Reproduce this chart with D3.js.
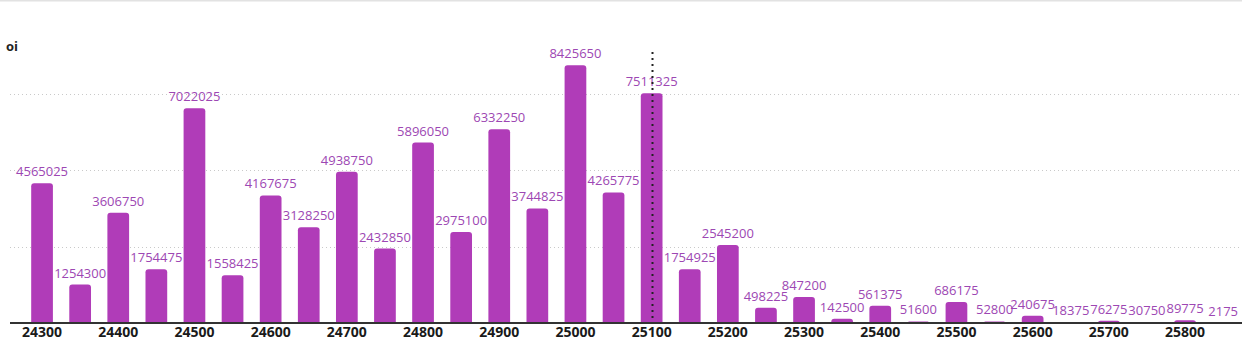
<!DOCTYPE html>
<html>
<head>
<meta charset="utf-8">
<script src="https://cdn.jsdelivr.net/npm/d3@7"></script>
<style>
  html, body { margin: 0; padding: 0; background: #fff; }
  svg { display: block; }
</style>
</head>
<body>
<svg id="chart" width="1242" height="341"></svg>
<script>
// Strike prices and open interest per strike
const strikes = [24300, 24350, 24400, 24450, 24500, 24550, 24600, 24650, 24700, 24750,
                 24800, 24850, 24900, 24950, 25000, 25050, 25100, 25150, 25200, 25250,
                 25300, 25350, 25400, 25450, 25500, 25550, 25600, 25650, 25700, 25750,
                 25800, 25850];
const oi = [4565025, 1254300, 3606750, 1754475, 7022025, 1558425, 4167675, 3128250, 4938750, 2432850,
            5896050, 2975100, 6332250, 3744825, 8425650, 4265775, 7511325, 1754925, 2545200, 498225,
            847200, 142500, 561375, 51600, 686175, 52800, 240675, 18375, 76275, 30750,
            89775, 2175];
const tickStrikes = [24300, 24400, 24500, 24600, 24700, 24800, 24900, 25000, 25100, 25200,
                     25300, 25400, 25500, 25600, 25700, 25800];
const gridValues = [2500000, 5000000, 7500000];
const markerStrike = 25100;

const W = 1242, H = 341;
const baseY = 323;
const svg = d3.select("#chart");

const x = d3.scaleBand()
  .domain(strikes)
  .range([23, 1242.2])
  .paddingInner(0.43)
  .paddingOuter(0.215);

const y = d3.scaleLinear()
  .domain([0, 10000000])
  .range([baseY, 17]);

// top border
svg.append("line")
  .attr("x1", 0).attr("x2", W).attr("y1", 0.5).attr("y2", 0.5)
  .attr("stroke", "#e2e2e2").attr("stroke-width", 2);

// series title
svg.append("text")
  .attr("x", 6).attr("y", 51)
  .attr("font-family", "'Open Sans', sans-serif")
  .attr("font-size", 13).attr("font-weight", 700)
  .attr("fill", "#222")
  .text("oi");

// dotted horizontal gridlines
svg.append("g").selectAll("line")
  .data(gridValues)
  .join("line")
  .attr("x1", 10).attr("x2", W)
  .attr("y1", d => Math.round(y(d)) + 0.5)
  .attr("y2", d => Math.round(y(d)) + 0.5)
  .attr("stroke", "#c9c9c9")
  .attr("stroke-width", 1)
  .attr("stroke-dasharray", "1,3");

// bars with rounded top corners
const r = 3;
function barPath(d, i) {
  const x0 = x(strikes[i]);
  const w = x.bandwidth();
  const top = y(d);
  const h = baseY - top;
  const rr = Math.min(r, h, w / 2);
  return `M${x0},${baseY}V${top + rr}Q${x0},${top} ${x0 + rr},${top}` +
         `H${x0 + w - rr}Q${x0 + w},${top} ${x0 + w},${top + rr}V${baseY}Z`;
}
svg.append("g").selectAll("path")
  .data(oi)
  .join("path")
  .attr("d", barPath)
  .attr("fill", "#b03cb8");

// value labels
svg.append("g").selectAll("text")
  .data(oi)
  .join("text")
  .attr("x", (d, i) => x(strikes[i]) + x.bandwidth() / 2)
  .attr("y", d => y(d) - 7)
  .attr("text-anchor", "middle")
  .attr("font-family", "'Open Sans', sans-serif")
  .attr("font-size", 13)
  .attr("fill", "#9d47b3")
  .text(d => d);

// marker line at selected strike
const mx = Math.round(x(markerStrike) + x.bandwidth() / 2) + 0.5;
svg.append("line")
  .attr("x1", mx).attr("x2", mx)
  .attr("y1", 52).attr("y2", baseY)
  .attr("stroke", "#222")
  .attr("stroke-width", 2)
  .attr("stroke-dasharray", "2,4");

// x axis
const xAxis = d3.axisBottom(x)
  .tickValues(tickStrikes)
  .tickSize(0)
  .tickPadding(4);
const gx = svg.append("g")
  .attr("transform", `translate(0,${baseY})`)
  .call(xAxis);
gx.select(".domain").remove();
gx.selectAll("text")
  .attr("font-family", "'Open Sans', sans-serif")
  .attr("font-size", 14)
  .attr("font-weight", 700)
  .attr("fill", "#1a1a1a");

svg.append("line")
  .attr("x1", 10).attr("x2", W)
  .attr("y1", baseY).attr("y2", baseY)
  .attr("stroke", "#333")
  .attr("stroke-width", 2);
</script>
</body>
</html>
